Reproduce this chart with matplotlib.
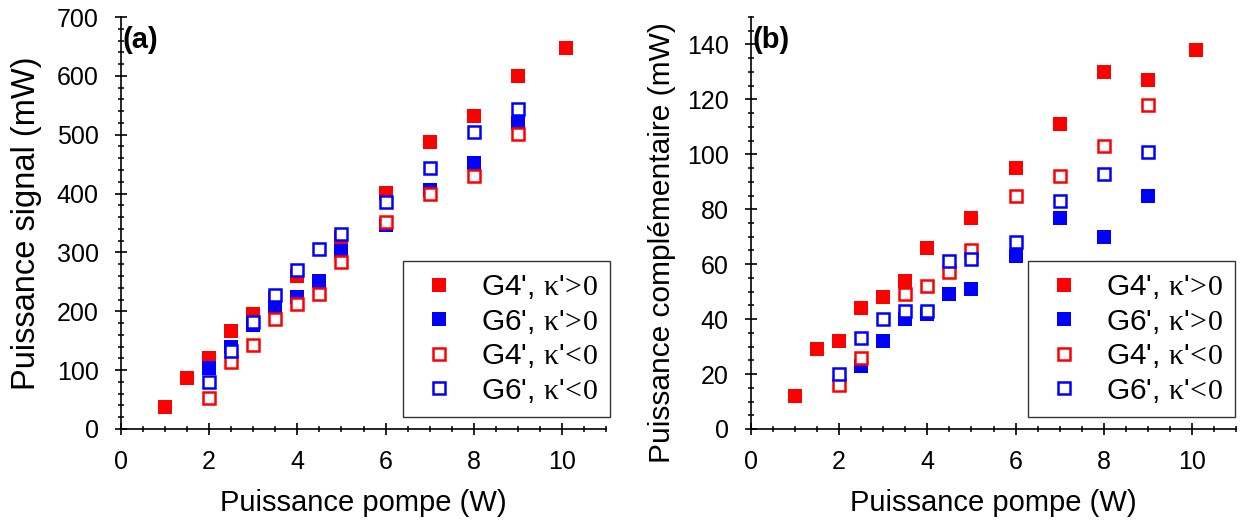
import matplotlib
matplotlib.use("Agg")
import matplotlib.pyplot as plt
from matplotlib.ticker import MultipleLocator

plt.rcParams['font.family'] = ['Liberation Sans', 'DejaVu Sans']
plt.rcParams['mathtext.fontset'] = 'custom'
plt.rcParams['mathtext.rm'] = 'Liberation Serif'
plt.rcParams['mathtext.it'] = 'Liberation Serif'

# ---------------- Panel (a): Puissance signal ----------------
a_g4p_x = [1.0, 1.5, 2.0, 2.5, 3.0, 3.5, 4.0, 5.0, 6.0, 7.0, 8.0, 9.0, 10.1]
a_g4p_y = [37, 87, 120, 167, 196, 222, 260, 325, 401, 487, 531, 600, 647]

a_g6p_x = [2.0, 2.5, 3.0, 3.5, 4.0, 4.5, 5.0, 6.0, 7.0, 8.0, 9.0]
a_g6p_y = [103, 140, 176, 208, 224, 252, 302, 347, 406, 452, 520]

a_g4n_x = [2.0, 2.5, 3.0, 3.5, 4.0, 4.5, 5.0, 6.0, 7.0, 8.0, 9.0]
a_g4n_y = [53, 114, 143, 187, 213, 230, 283, 352, 399, 430, 501]

a_g6n_x = [2.0, 2.5, 3.0, 3.5, 4.0, 4.5, 5.0, 6.0, 7.0, 8.0, 9.0]
a_g6n_y = [80, 133, 181, 228, 270, 306, 332, 385, 443, 504, 543]

# ---------------- Panel (b): Puissance complémentaire ----------------
b_g4p_x = [1.0, 1.5, 2.0, 2.5, 3.0, 3.5, 4.0, 5.0, 6.0, 7.0, 8.0, 9.0, 10.1]
b_g4p_y = [12, 29, 32, 44, 48, 54, 66, 77, 95, 111, 130, 127, 138]

b_g6p_x = [2.5, 3.0, 3.5, 4.0, 4.5, 5.0, 6.0, 7.0, 8.0, 9.0]
b_g6p_y = [23, 32, 40, 42, 49, 51, 63, 77, 70, 85]

b_g4n_x = [2.0, 2.5, 3.5, 4.0, 4.5, 5.0, 6.0, 7.0, 8.0, 9.0]
b_g4n_y = [16, 26, 49, 52, 57, 65, 85, 92, 103, 118]

b_g6n_x = [2.0, 2.5, 3.0, 3.5, 4.0, 4.5, 5.0, 6.0, 7.0, 8.0, 9.0]
b_g6n_y = [20, 33, 40, 43, 43, 61, 62, 68, 83, 93, 101]

labels = ["G4', $\\mathrm{κ}$'$\\mathrm{\\!>\\!0}$",
          "G6', $\\mathrm{κ}$'$\\mathrm{\\!>\\!0}$",
          "G4', $\\mathrm{κ}$'$\\mathrm{\\!<\\!0}$",
          "G6', $\\mathrm{κ}$'$\\mathrm{\\!<\\!0}$"]

RED = '#ff0000'
BLUE = '#0000ff'

fig = plt.figure(figsize=(12.42, 5.25), dpi=100)
axa = fig.add_axes([121/1242, 96/525, 485/1242, 412/525])
axb = fig.add_axes([751/1242, 96/525, 485/1242, 412/525])


def draw(ax, series, ylim, ymaj, ymin, ylabel, ylsize, ylcoords, legx, tag):
    (x1, y1), (x2, y2), (x3, y3), (x4, y4) = series
    ax.plot(x1, y1, ls='none', marker='s', ms=9.5, mfc=RED, mec=RED, mew=0, label=labels[0])
    ax.plot(x2, y2, ls='none', marker='s', ms=9.5, mfc=BLUE, mec=BLUE, mew=0, label=labels[1])
    ax.plot(x3, y3, ls='none', marker='s', ms=8, mfc='white', mec=RED, mew=1.8, label=labels[2])
    ax.plot(x4, y4, ls='none', marker='s', ms=8, mfc='white', mec=BLUE, mew=1.8, label=labels[3])
    ax.set_xlim(0, 11)
    ax.set_ylim(*ylim)
    ax.spines['top'].set_visible(False)
    ax.spines['right'].set_visible(False)
    for s in ('left', 'bottom'):
        ax.spines[s].set_linewidth(1.2)
    ax.xaxis.set_major_locator(MultipleLocator(2))
    ax.xaxis.set_minor_locator(MultipleLocator(0.5))
    ax.yaxis.set_major_locator(MultipleLocator(ymaj))
    ax.yaxis.set_minor_locator(MultipleLocator(ymin))
    ax.tick_params(which='major', direction='inout', length=8, width=1.2, labelsize=18)
    ax.tick_params(axis='x', which='major', pad=11)
    ax.tick_params(axis='y', which='major', pad=12)
    ax.tick_params(which='minor', direction='inout', length=5, width=1.1)
    ax.set_xlabel('Puissance pompe (W)', fontsize=21, labelpad=11)
    ax.set_ylabel(ylabel, fontsize=ylsize)
    ax.yaxis.set_label_coords(*ylcoords)
    ax.text(0.004, 0.978, tag, transform=ax.transAxes, fontsize=21, fontweight='bold',
            ha='left', va='top')
    leg = ax.legend(loc='lower right', bbox_to_anchor=(legx, 0.03), fontsize=21.5,
                    frameon=True, fancybox=False, edgecolor='black', handlelength=1.6,
                    handletextpad=0.6, borderpad=0.4, labelspacing=0.22, borderaxespad=0)
    leg.get_frame().set_linewidth(1.0)


draw(axa, [(a_g4p_x, a_g4p_y), (a_g6p_x, a_g6p_y), (a_g4n_x, a_g4n_y), (a_g6n_x, a_g6n_y)],
     (0, 700), 100, 20, 'Puissance signal (mW)', 23.5, (-0.162, 0.50), 1.008, '(a)')
draw(axb, [(b_g4p_x, b_g4p_y), (b_g6p_x, b_g6p_y), (b_g4n_x, b_g4n_y), (b_g6n_x, b_g6n_y)],
     (0, 150), 20, 5, 'Puissance complémentaire (mW)', 21.5, (-0.155, 0.452), 0.997, '(b)')

fig.savefig('out.png', dpi=100)
